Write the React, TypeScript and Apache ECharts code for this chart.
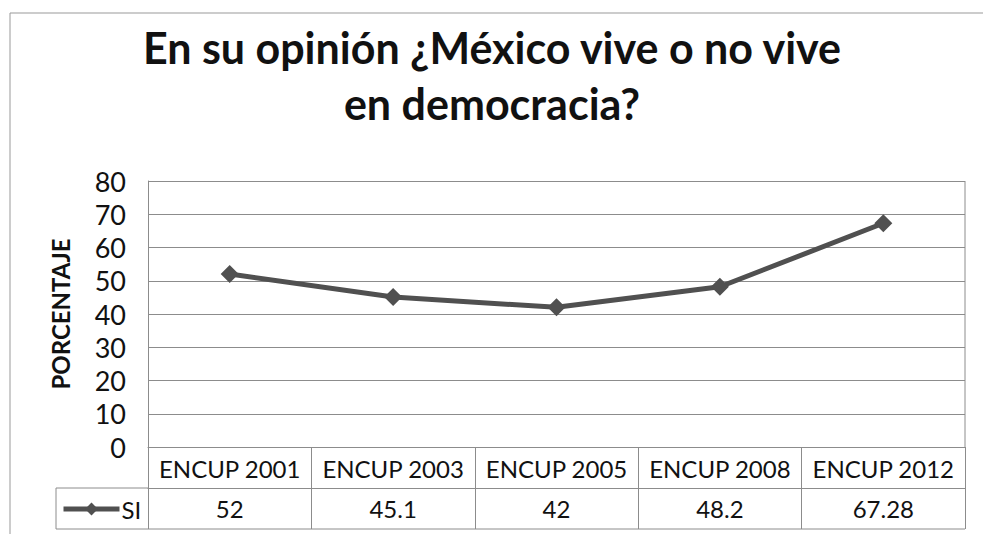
import React, { useEffect, useRef } from "react";
import * as echarts from "echarts";

const categories = ["ENCUP 2001", "ENCUP 2003", "ENCUP 2005", "ENCUP 2008", "ENCUP 2012"];
const siValues = [52, 45.1, 42, 48.2, 67.28];
const seriesName = "SI";
const titleText = "En su opinión ¿México vive o no vive\nen democracia?";
const yAxisName = "PORCENTAJE";

const FONT = "Lato";
const GRID_LEFT = 148;
const GRID_RIGHT = 965;
const GRID_TOP = 181;
const GRID_BOTTOM = 447;
const ROW1 = 488;
const ROW2 = 529;
const LEG_LEFT = 56;
const BORDER = "#8c8c8c";
const LINE_COLOR = "#505050";

export default function App() {
  const ref = useRef<HTMLDivElement>(null);
  useEffect(() => {
    if (!ref.current) return;
    const chart = echarts.init(ref.current, null, { renderer: "svg" });
    const lineStyleGrid = { color: BORDER, width: 1 };
    chart.setOption({
      animation: false,
      backgroundColor: "#fff",
      title: {
        text: titleText,
        left: 487,
        textAlign: "center",
        top: 14,
        textStyle: {
          fontFamily: FONT,
          fontSize: 43,
          fontWeight: "bold",
          color: "#111",
          lineHeight: 56,
        },
      },
      legend: {
        show: true,
        left: 61,
        top: 497,
        padding: 0,
        itemWidth: 56,
        itemHeight: 16,
        itemGap: 0,
        data: [seriesName],
        lineStyle: { width: 5, color: LINE_COLOR },
        itemStyle: { color: LINE_COLOR },
        textStyle: { fontFamily: FONT, fontSize: 24, color: "#111", padding: [0, 0, 0, -3] },
      },
      grid: {
        left: GRID_LEFT,
        right: 983 - GRID_RIGHT,
        top: GRID_TOP,
        bottom: 534 - GRID_BOTTOM,
        containLabel: false,
      },
      xAxis: [
        {
          type: "category",
          data: categories,
          boundaryGap: true,
          position: "bottom",
          axisLine: { show: true, lineStyle: lineStyleGrid },
          axisTick: { show: true, interval: 0, length: ROW2 - GRID_BOTTOM, lineStyle: lineStyleGrid },
          axisLabel: {
            interval: 0,
            hideOverlap: false,
            fontFamily: FONT,
            fontSize: 24,
            color: "#111",
            margin: 9,
          },
          splitLine: { show: false },
        },
        {
          type: "category",
          data: siValues.map((v) => String(v)),
          boundaryGap: true,
          position: "bottom",
          offset: ROW1 - GRID_BOTTOM,
          axisLine: { show: true, lineStyle: lineStyleGrid },
          axisTick: { show: false },
          axisLabel: {
            interval: 0,
            hideOverlap: false,
            fontFamily: FONT,
            fontSize: 24,
            color: "#111",
            margin: 8,
          },
        },
      ],
      yAxis: {
        type: "value",
        min: 0,
        max: 80,
        interval: 10,
        name: yAxisName,
        nameLocation: "middle",
        nameGap: 76,
        nameRotate: 90,
        nameTextStyle: { fontFamily: FONT, fontSize: 24, fontWeight: "bold", color: "#111" },
        axisLine: { show: true, lineStyle: lineStyleGrid },
        axisTick: { show: false },
        axisLabel: { fontFamily: FONT, fontSize: 27, color: "#111", margin: 22 },
        splitLine: { show: true, lineStyle: lineStyleGrid },
      },
      series: [
        {
          name: seriesName,
          type: "line",
          data: siValues,
          xAxisIndex: 0,
          symbol: "diamond",
          symbolSize: 18,
          lineStyle: { color: LINE_COLOR, width: 5 },
          itemStyle: { color: LINE_COLOR },
        },
      ],
      graphic: [
        {
          type: "rect",
          shape: { x: 10, y: 13, width: 990, height: 540 },
          style: { fill: "none", stroke: "#999", lineWidth: 1 },
          silent: true,
        },
        {
          type: "line",
          shape: { x1: GRID_RIGHT, y1: GRID_TOP, x2: GRID_RIGHT, y2: GRID_BOTTOM },
          style: { stroke: BORDER, lineWidth: 1 },
        },
        {
          type: "line",
          shape: { x1: LEG_LEFT, y1: ROW1, x2: GRID_LEFT, y2: ROW1 },
          style: { stroke: BORDER, lineWidth: 1 },
        },
        {
          type: "line",
          shape: { x1: LEG_LEFT, y1: ROW2, x2: GRID_RIGHT, y2: ROW2 },
          style: { stroke: BORDER, lineWidth: 1 },
        },
        {
          type: "line",
          shape: { x1: LEG_LEFT, y1: ROW1, x2: LEG_LEFT, y2: ROW2 },
          style: { stroke: BORDER, lineWidth: 1 },
        },
      ],
    });
    return () => chart.dispose();
  }, []);
  return <div ref={ref} style={{ width: 983, height: 534, position: "absolute", left: 0, top: 0 }} />;
}
